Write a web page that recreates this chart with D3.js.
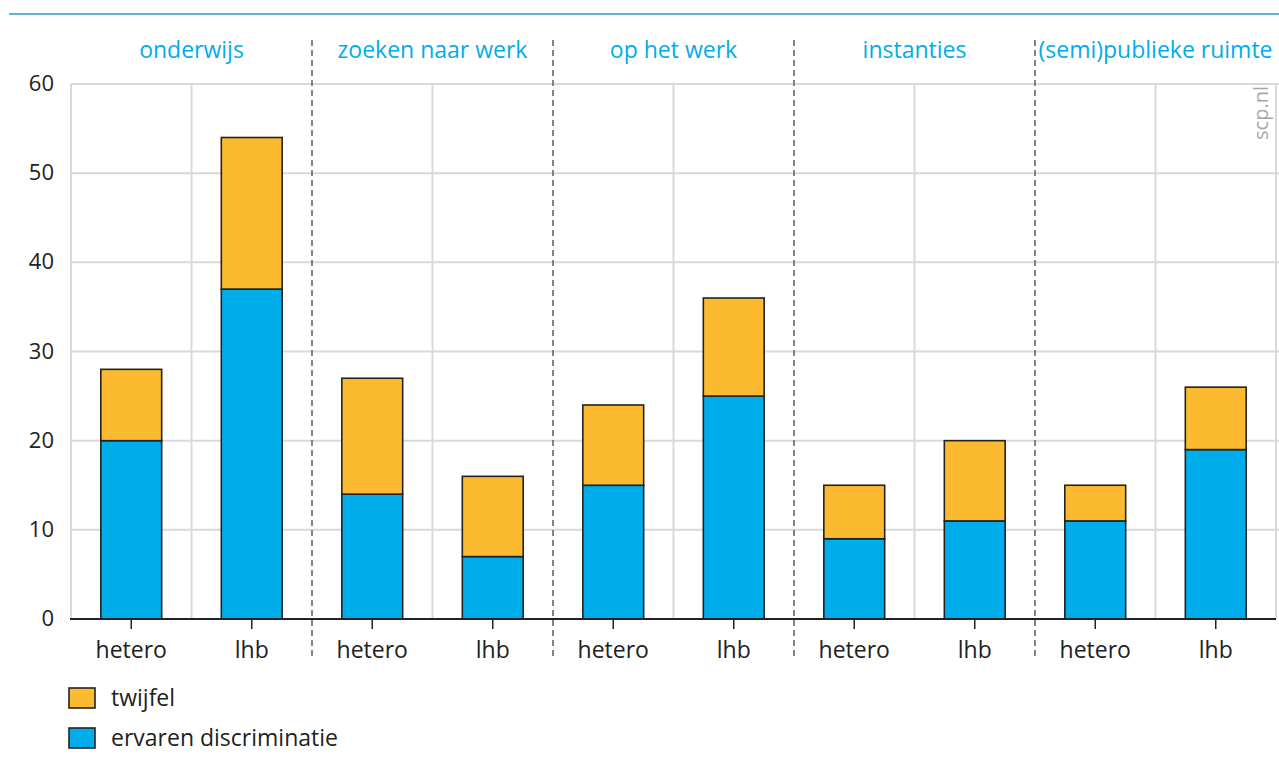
<!DOCTYPE html>
<html><head><meta charset="utf-8">
<script src="https://cdn.jsdelivr.net/npm/d3@7"></script>
<style>body{margin:0;background:#fff}svg{display:block}text{font-family:"Open Sans",sans-serif}</style>
</head><body><svg id="c" width="1279" height="773"></svg>
<script>
const groups = ["onderwijs","zoeken naar werk","op het werk","instanties","(semi)publieke ruimte"];
const subgroups = ["hetero","lhb"];
const ervaren = [20,37,14,7,15,25,9,11,11,19];
const twijfel = [8,17,13,9,9,11,6,9,4,7];
const yTicks = [0,10,20,30,40,50,60];
const seriesNames = ["twijfel","ervaren discriminatie"];
const colors = {"twijfel":"#fbba2f","ervaren discriminatie":"#00adeb"};

const svg = d3.select("#c");
const L=71,R=1276,T=84,B=619;
const idx = d3.range(ervaren.length);
const x = d3.scaleBand().domain(idx).range([L,R]).padding(0);
const y = d3.scaleLinear().domain([0,60]).range([B,T]);
const bw = x.bandwidth(), barW = bw*0.505;

svg.append("line").attr("x1",9).attr("x2",1279).attr("y1",14).attr("y2",14).attr("stroke","#5cb3de").attr("stroke-width",2);

svg.append("g").selectAll("line").data(yTicks.filter(d=>d>0)).join("line")
 .attr("x1",L).attr("x2",1279).attr("y1",d=>y(d)).attr("y2",d=>y(d)).attr("stroke","#d9d9d9").attr("stroke-width",2);
const vb = idx.map(i=>x(i)).concat([R]).filter((v,i)=>i%2===1 || i===0 || i===10);
svg.append("g").selectAll("line").data(vb).join("line")
 .attr("x1",d=>d).attr("x2",d=>d).attr("y1",T).attr("y2",B).attr("stroke","#d9d9d9").attr("stroke-width",2);

svg.append("g").selectAll("text").data(yTicks).join("text")
 .attr("x",54).attr("y",d=>y(d)+7).attr("text-anchor","end").attr("font-size",22).attr("fill","#222").text(d=>d);

const stackData = idx.map(i=>({i, e:ervaren[i], t:twijfel[i]}));
const g = svg.append("g");
g.selectAll("rect.e").data(stackData).join("rect").attr("class","e")
 .attr("x",d=>x(d.i)+(bw-barW)/2).attr("width",barW).attr("y",d=>y(d.e)).attr("height",d=>y(0)-y(d.e))
 .attr("fill",colors["ervaren discriminatie"]).attr("stroke","#222").attr("stroke-width",1.6);
g.selectAll("rect.t").data(stackData).join("rect").attr("class","t")
 .attr("x",d=>x(d.i)+(bw-barW)/2).attr("width",barW).attr("y",d=>y(d.e+d.t)).attr("height",d=>y(d.e)-y(d.e+d.t))
 .attr("fill",colors["twijfel"]).attr("stroke","#222").attr("stroke-width",1.6);

svg.append("line").attr("x1",L-1).attr("x2",R).attr("y1",B).attr("y2",B).attr("stroke","#222").attr("stroke-width",2);
svg.append("g").selectAll("line").data(idx).join("line")
 .attr("x1",d=>x(d)+bw/2).attr("x2",d=>x(d)+bw/2).attr("y1",B).attr("y2",B+10).attr("stroke","#222").attr("stroke-width",1.5);
svg.append("g").selectAll("text").data(idx).join("text")
 .attr("x",d=>x(d)+bw/2).attr("y",658).attr("text-anchor","middle").attr("font-size",23).attr("fill","#222")
 .text(d=>subgroups[d%2]);

const dv = d3.range(1,groups.length).map(k=>x(k*2));
svg.append("g").selectAll("line").data(dv).join("line")
 .attr("x1",d=>d).attr("x2",d=>d).attr("y1",40).attr("y2",660).attr("stroke","#666").attr("stroke-width",1.6).attr("stroke-dasharray","6,4");

svg.append("g").selectAll("text").data(groups).join("text")
 .attr("x",(d,k)=>x(k*2)+bw).attr("y",58).attr("text-anchor","middle").attr("font-size",23).attr("fill","#00adeb")
 .text(d=>d);

svg.append("text").attr("transform","translate(1268,113) rotate(-90)").attr("text-anchor","middle")
 .attr("font-size",20).attr("fill","#a8a8a8").text("scp.nl");

const lg = svg.append("g").selectAll("g").data(seriesNames).join("g")
 .attr("transform",(d,i)=>`translate(69,${688+i*40})`);
lg.append("rect").attr("width",26).attr("height",20).attr("fill",d=>colors[d]).attr("stroke","#222").attr("stroke-width",1.6);
lg.append("text").attr("x",42).attr("y",18).attr("font-size",23).attr("fill","#222").text(d=>d);
</script></body></html>
